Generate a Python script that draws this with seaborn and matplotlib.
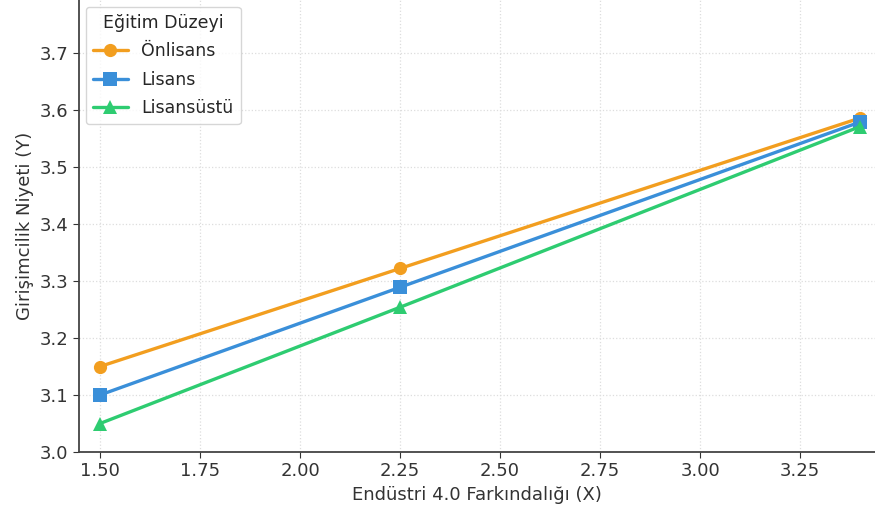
import matplotlib as mpl
mpl.use('Agg')
from matplotlib import pyplot as plt
import numpy as np
import pandas as pd
import seaborn as sb

x_vals = [1.5, 2.25, 3.4]
onlisans = [3.15, 3.322, 3.586]
lisans = [3.10, 3.289, 3.579]
lisansustu = [3.05, 3.254, 3.571]
groups = ["Önlisans", "Lisans", "Lisansüstü"]

df = pd.DataFrame({
    "X": x_vals * 3,
    "Y": onlisans + lisans + lisansustu,
    "grup": [g for g in groups for _ in x_vals],
})

sb.set_style("ticks")
plt.rcParams['font.family'] = ['DejaVu Sans']

fig = plt.figure(figsize=(8.75, 5.14), dpi=100)
ax1 = fig.add_axes([79/875, 62/514, 796/875, 452/514])

colors = ['#f29e1f', '#3a8fd9', '#2ecc71']
sb.lineplot(data=df, x="X", y="Y", hue="grup", style="grup",
            palette=colors, markers=['o', 's', '^'], dashes=False,
            markersize=9.5, linewidth=2.4, markeredgewidth=0, ax=ax1)

ax1.set_xlim(1.4475, 3.437)
ax1.set_ylim(3.0, 3.793)
ax1.set_xticks(np.arange(1.5, 3.26, 0.25))
ax1.set_xticklabels(["{:.2f}".format(v) for v in np.arange(1.5, 3.26, 0.25)])
ax1.set_yticks(np.arange(3.0, 3.71, 0.1))
ax1.set_yticklabels(["{:.1f}".format(v) for v in np.arange(3.0, 3.71, 0.1)])
ax1.grid(True, linestyle=':', color='#dddddd', linewidth=0.9)
ax1.tick_params(labelsize=13, colors='#333333', length=4)
for s in ['top', 'right']:
    ax1.spines[s].set_visible(False)
for s in ['left', 'bottom']:
    ax1.spines[s].set_color('#444444')
    ax1.spines[s].set_linewidth(1.3)

ax1.set_xlabel("Endüstri 4.0 Farkındalığı (X)", fontsize=13, color='#333333')
ax1.set_ylabel("Girişimcilik Niyeti (Y)", fontsize=13, color='#333333')

leg = ax1.legend(title="Eğitim Düzeyi", loc='upper left', fontsize=12.5,
                 title_fontsize=12.5, frameon=True, borderaxespad=0.4,
                 labelspacing=0.6)
leg.get_frame().set_edgecolor('#cccccc')

fig.savefig('out.png', format='png', dpi=100)
